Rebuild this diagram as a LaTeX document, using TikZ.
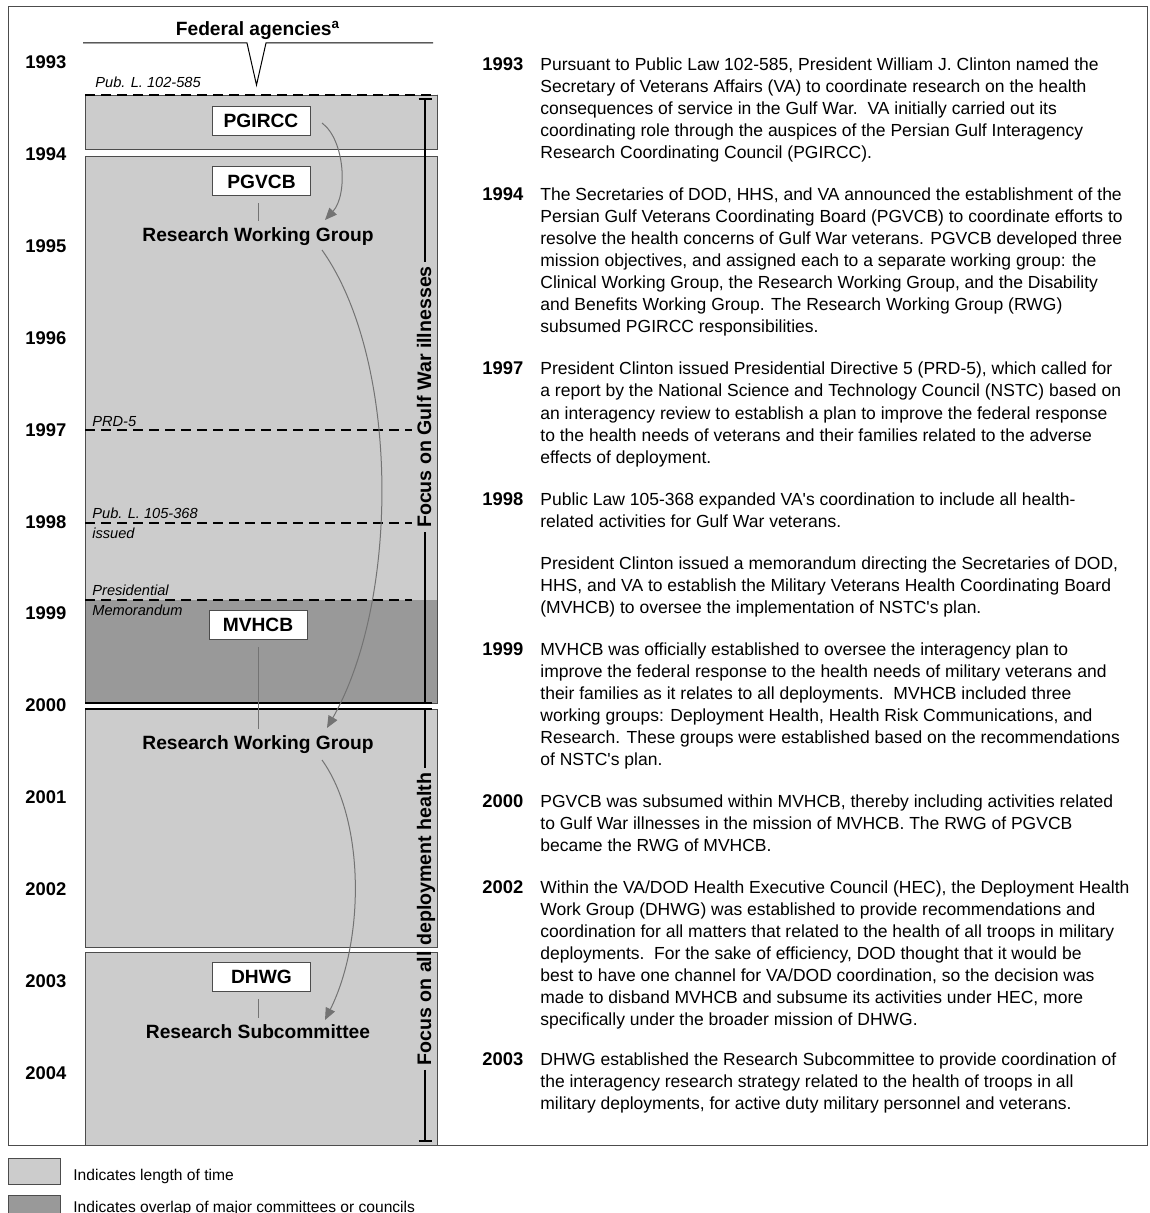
\documentclass[tikz,border=0pt]{standalone}
\usepackage{fontspec}
\setmainfont{Liberation Sans}
\usetikzlibrary{arrows.meta}
\definecolor{lightbar}{gray}{0.8}
\definecolor{darkbar}{gray}{0.6}
\definecolor{rim}{gray}{0.3}
\definecolor{flow}{gray}{0.45}

\begin{document}
\begin{tikzpicture}[x=0.5pt,y=-0.5pt,
    year/.style={font=\fontsize{9.2}{11}\selectfont\bfseries, anchor=base west, inner sep=0},
    agency/.style={draw=rim, fill=white, line width=0.5pt, minimum width=49pt, minimum height=14.5pt, inner sep=0, font=\fontsize{9.6}{11}\selectfont\bfseries},
    group/.style={font=\fontsize{9.6}{11}\selectfont\bfseries, inner sep=0},
    event/.style={font=\fontsize{7.3}{10}\selectfont\itshape, anchor=base west, inner sep=0, align=left},
    para/.style={font=\fontsize{8.75}{11}\selectfont, anchor=base west, inner sep=0, align=left},
    keytext/.style={font=\fontsize{7.8}{10}\selectfont, anchor=base west, inner sep=0},
    keybox/.style={draw=rim, line width=0.5pt, minimum width=26pt, minimum height=13pt, inner sep=0},
    bar/.style={fill=lightbar, draw=rim, line width=0.4pt},
    milestone/.style={line width=0.7pt, dash pattern=on 5pt off 3pt},
    link/.style={draw=flow, line width=0.5pt},
    flowarrow/.style={draw=flow, line width=0.5pt, -{Triangle[length=6pt,width=5pt]}},
    bracket/.style={line width=0.7pt},
    focus/.style={rotate=90, anchor=base, inner sep=2pt, font=\fontsize{9.8}{11}\selectfont\bfseries}]
    \useasboundingbox (0,0) rectangle (1149,1213);
    \draw[rim, line width=0.5pt] (8,7) rectangle (1147,1145);

    % time bars
    \draw[bar] (85,95) rectangle (437,149);
    \fill[lightbar] (85,156) rectangle (437,600);
    \fill[darkbar] (85,600) rectangle (437,703);
    \draw[rim, line width=0.4pt] (85,156) rectangle (437,703);
    \draw[bar] (85,709) rectangle (437,947);
    \draw[bar] (85,952) rectangle (437,1145);
    \draw[line width=0.7pt] (85,703) -- (432,703) (85,709) -- (432,709);

    % milestones (multi-line labels sit on their last line)
    \draw[milestone] (85,95) -- (437,95);
    \draw[milestone] (85,430) -- (412,430);
    \draw[milestone] (85,523) -- (412,523);
    \draw[milestone] (85,600) -- (412,600);
    \node[event] (publaw1) at (95,88) {Pub. L. 102-585};
    \node[event] (prd) at (92,426) {PRD-5};
    \node[event] (publaw2) at (92,538) {Pub. L. 105-368\\issued};
    \node[event] (memo) at (92,615) {Presidential\\Memorandum};

    % header
    \node[group, anchor=base] (fed) at (258,36) {Federal agencies\textsuperscript{a}};
    \draw[line width=0.5pt] (83,43) -- (247,43) -- (256.5,85) -- (266,43) -- (433,43);

    % years
    \foreach \yr [count=\i from 0] in {1993,...,2004}
        \node[year] (y\yr) at (25,{68.5+91.9*\i}) {\yr};

    % agencies
    \node[agency] (pgircc) at (261,121) {PGIRCC};
    \node[agency] (pgvcb) at (261.5,181.5) {PGVCB};
    \node[agency] (mvhcb) at (258,625) {MVHCB};
    \node[agency] (dhwg) at (261.5,977) {DHWG};
    \node[group] (rwga) at (258,237) {Research Working Group};
    \node[group] (rwgb) at (258,745) {Research Working Group};
    \node[group] (rsc) at (258,1032) {Research Subcommittee};

    \draw[link] ([yshift=3.5pt]rwga.north) -- ([yshift=-3.5pt]rwga.north |- pgvcb.south);
    \draw[link] ([yshift=3.5pt]rwgb.north) -- ([yshift=-3.5pt]rwgb.north |- mvhcb.south);
    \draw[link] ([yshift=3.5pt]rsc.north) -- ([yshift=-3.5pt]rsc.north |- dhwg.south);

    \coordinate (fa1) at (322,123);
    \coordinate (ta1) at (325,220);
    \coordinate (fa2) at (322,250);
    \coordinate (ta2) at (327,728);
    \coordinate (fa3) at (322,760);
    \coordinate (ta3) at (325,1020);
    \draw[flowarrow] (fa1) .. controls (345,140) and (348,195) .. (ta1);
    \draw[flowarrow] (fa2) .. controls (400,360) and (400,600) .. (ta2);
    \draw[flowarrow] (fa3) .. controls (365,820) and (365,940) .. (ta3);

    % focus brackets
    \node[focus] (gulf) at (431,397) {Focus on Gulf War illnesses};
    \node[focus] (deploy) at (431,919) {Focus on all deployment health};
    \coordinate (ga) at (425,99);
    \coordinate (gb) at (425,703);
    \coordinate (da) at (425,709);
    \coordinate (db) at (425,1141);
    \draw[bracket] (ga) -- (ga |- gulf.east) (gb |- gulf.west) -- (gb);
    \draw[bracket] (da) -- (da |- deploy.east) (db |- deploy.west) -- (db);
    \draw[bracket] ([xshift=-3.25pt]ga) -- ([xshift=3.25pt]ga) ([xshift=-3.25pt]gb) -- ([xshift=3.25pt]gb);
    \draw[bracket] ([xshift=-3.25pt]da) -- ([xshift=3.25pt]da) ([xshift=-3.25pt]db) -- ([xshift=3.25pt]db);

    % chronology (paragraph nodes sit on their last line)
    \node[year] (t1993) at (482,71) {1993};
    \node[para] (p1993) at (540,159) {Pursuant to Public Law 102-585, President William J. Clinton named the\\
        Secretary of Veterans Affairs (VA) to coordinate research on the health\\
        consequences of service in the Gulf War.\ \ VA initially carried out its\\
        coordinating role through the auspices of the Persian Gulf Interagency\\
        Research Coordinating Council (PGIRCC).};
    \node[year] (t1994) at (482,201) {1994};
    \node[para] (p1994) at (540,333) {The Secretaries of DOD, HHS, and VA announced the establishment of the\\
        Persian Gulf Veterans Coordinating Board (PGVCB) to coordinate efforts to\\
        resolve the health concerns of Gulf War veterans. PGVCB developed three\\
        mission objectives, and assigned each to a separate working group: the\\
        Clinical Working Group, the Research Working Group, and the Disability\\
        and Benefits Working Group. The Research Working Group (RWG)\\
        subsumed PGIRCC responsibilities.};
    \node[year] (t1997) at (482,375) {1997};
    \node[para] (p1997) at (540,463) {President Clinton issued Presidential Directive 5 (PRD-5), which called for\\
        a report by the National Science and Technology Council (NSTC) based on\\
        an interagency review to establish a plan to improve the federal response\\
        to the health needs of veterans and their families related to the adverse\\
        effects of deployment.};
    \node[year] (t1998) at (482,505) {1998};
    \node[para] (p1998) at (540,527) {Public Law 105-368 expanded VA\textquotesingle s coordination to include all health-\\
        related activities for Gulf War veterans.};
    \node[para] (pmemo) at (540,613) {President Clinton issued a memorandum directing the Secretaries of DOD,\\
        HHS, and VA to establish the Military Veterans Health Coordinating Board\\
        (MVHCB) to oversee the implementation of NSTC\textquotesingle s plan.};
    \node[year] (t1999) at (482,655) {1999};
    \node[para] (p1999) at (540,765) {MVHCB was officially established to oversee the interagency plan to\\
        improve the federal response to the health needs of military veterans and\\
        their families as it relates to all deployments.\ \ MVHCB included three\\
        working groups: Deployment Health, Health Risk Communications, and\\
        Research. These groups were established based on the recommendations\\
        of NSTC\textquotesingle s plan.};
    \node[year] (t2000) at (482,807) {2000};
    \node[para] (p2000) at (540,851) {PGVCB was subsumed within MVHCB, thereby including activities related\\
        to Gulf War illnesses in the mission of MVHCB. The RWG of PGVCB\\
        became the RWG of MVHCB.};
    \node[year] (t2002) at (482,893) {2002};
    \node[para] (p2002) at (540,1025) {Within the VA/DOD Health Executive Council (HEC), the Deployment Health\\
        Work Group (DHWG) was established to provide recommendations and\\
        coordination for all matters that related to the health of all troops in military\\
        deployments.\ \ For the sake of efficiency, DOD thought that it would be\\
        best to have one channel for VA/DOD coordination, so the decision was\\
        made to disband MVHCB and subsume its activities under HEC, more\\
        specifically under the broader mission of DHWG.};
    \node[year] (t2003) at (482,1065) {2003};
    \node[para] (p2003) at (540,1109) {DHWG established the Research Subcommittee to provide coordination of\\
        the interagency research strategy related to the health of troops in all\\
        military deployments, for active duty military personnel and veterans.};

    % key
    \node[keybox, fill=lightbar] (keylight) at (34,1171) {};
    \node[keytext] (keylighttext) at (73,1180) {Indicates length of time};
    \node[keybox, fill=darkbar] (keydark) at (34,1208) {};
    \node[keytext] (keydarktext) at (73,1212) {Indicates overlap of major committees or councils};
\end{tikzpicture}
\end{document}
